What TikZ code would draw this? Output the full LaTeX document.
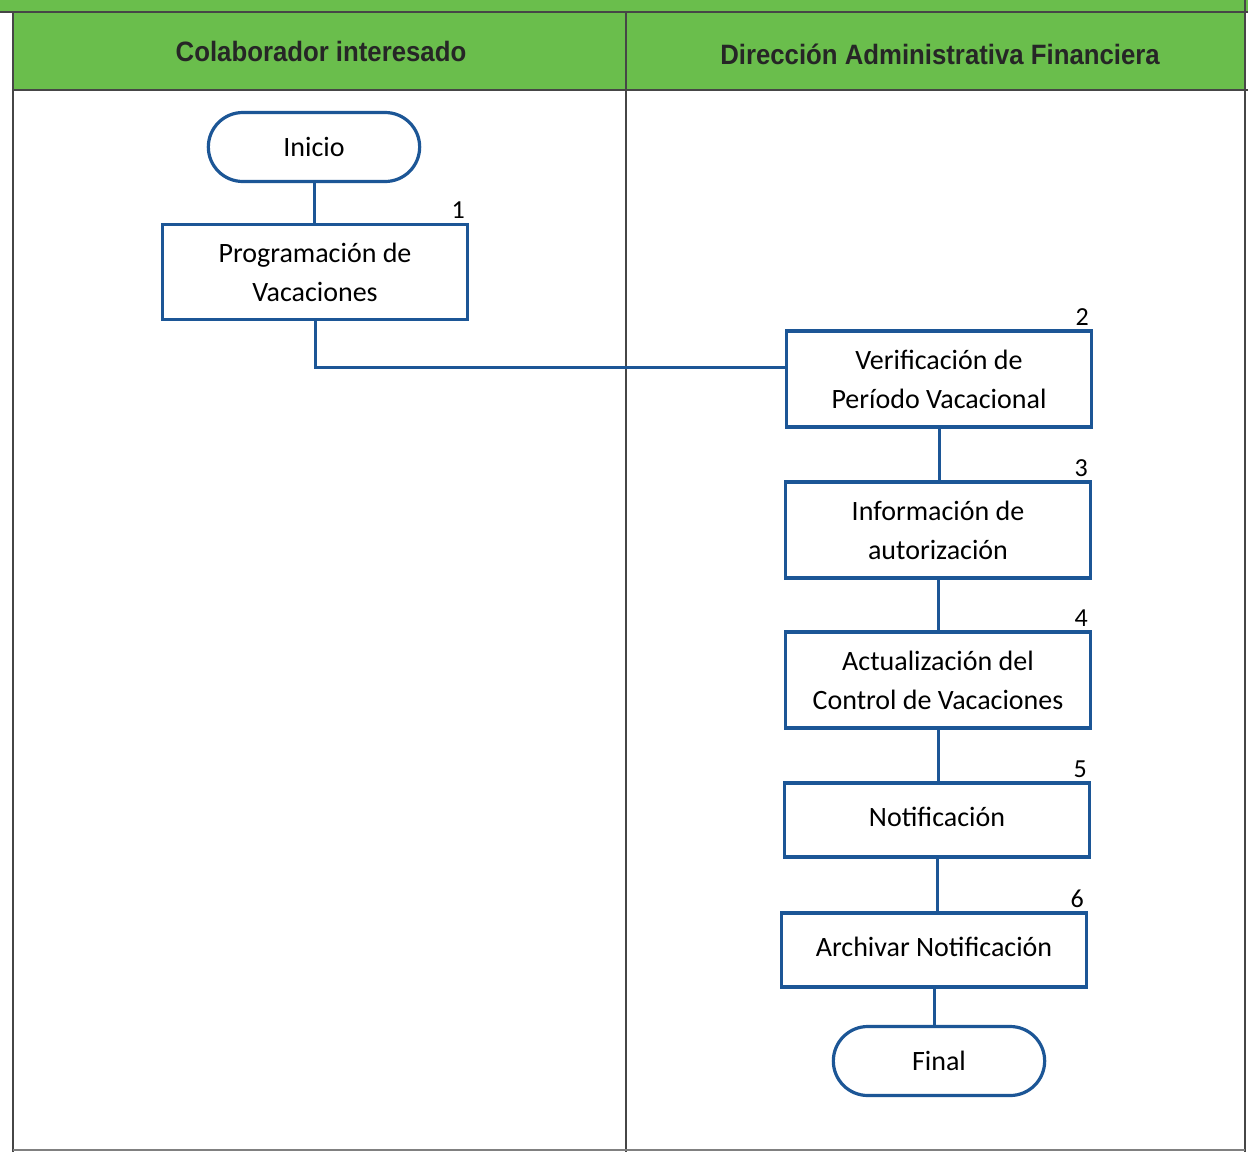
\documentclass[tikz,border=0pt]{standalone}
\usepackage{fontspec}
\setmainfont{Carlito}
\newfontfamily\headfont{Liberation Sans}
\usetikzlibrary{shapes.misc}
\definecolor{hdrgreen}{RGB}{106,190,76}
\definecolor{flowblue}{RGB}{28,86,150}
\definecolor{rulegray}{RGB}{70,70,70}
\tikzset{
  lane/.style={draw=rulegray, line width=1.6pt},
  proc/.style={draw=flowblue, line width=3.2pt, fill=white, minimum width=305pt,
    align=center, font=\fontsize{28}{39}\selectfont, inner sep=0pt},
  term/.style={draw=flowblue, line width=3.2pt, fill=white, rounded rectangle,
    minimum width=218pt, minimum height=69pt, font=\fontsize{28}{32}\selectfont},
  flow/.style={draw=flowblue, line width=3pt},
  num/.style={font=\fontsize{26}{30}\selectfont, anchor=south east, inner sep=0pt},
  head/.style={font=\headfont\bfseries\fontsize{28}{32}\selectfont, text=black!85}
}
\begin{document}
\begin{tikzpicture}[x=1pt,y=-1pt]
\useasboundingbox (0,0) rectangle (1248,1152);
\fill[white] (0,0) rectangle (1248,1152);
% header band
\fill[hdrgreen] (0,0) rectangle (1248,12);
\fill[hdrgreen] (13,12) rectangle (1245,90);
\draw[lane] (0,12) -- (1248,12);
\draw[lane] (13,90) -- (1248,90);
\draw[lane] (13,12) -- (13,1152);
\draw[lane] (1245,0) -- (1245,1152);
\draw[lane] (626,12) -- (626,1152);
\draw[draw=gray, line width=1.5pt] (13,1150) -- (1245,1150);
\node[head] (h1) at (321,51) {\scalebox{0.92}[1]{Colaborador interesado}};
\node[head] (h2) at (940,54) {\scalebox{0.92}[1]{Dirección Administrativa Financiera}};
% flow nodes
\node[term] (ini) at (314,147) {Inicio};
\node[proc, minimum height=95pt] (p1) at (315,272) {Programación de\\Vacaciones};
\node[proc, minimum height=96pt] (p2) at (939,379) {Verificación de\\Período Vacacional};
\node[proc, minimum height=96pt] (p3) at (938,530) {Información de\\autorización};
\node[proc, minimum height=96pt] (p4) at (938,680) {Actualización del\\Control de Vacaciones};
\node[proc, minimum height=74pt] (p5) at (937,820) {\raisebox{7pt}{Notificación}};
\node[proc, minimum height=74pt] (p6) at (934,950) {\raisebox{7pt}{Archivar Notificación}};
\node[term] (fin) at (939,1061) {Final};
% step numbers
\node[num] (n1) at ([xshift=-4pt,yshift=4pt]p1.north east) {1};
\node[num] (n2) at ([xshift=-4pt,yshift=4pt]p2.north east) {2};
\node[num] (n3) at ([xshift=-4pt,yshift=4pt]p3.north east) {3};
\node[num] (n4) at ([xshift=-4pt,yshift=4pt]p4.north east) {4};
\node[num] (n5) at ([xshift=-4pt,yshift=4pt]p5.north east) {5};
\node[num] (n6) at ([xshift=-4pt,yshift=4pt]p6.north east) {6};
% connectors
\draw[flow] (ini.south) -- (ini.south |- p1.north);
\draw[flow] (p1.south) |- ([yshift=12pt]p2.west);
\draw[flow] (p2.south) -- (p2.south |- p3.north);
\draw[flow] (p3.south) -- (p3.south |- p4.north);
\draw[flow] (p4.south) -- (p4.south |- p5.north);
\draw[flow] (p5.south) -- (p5.south |- p6.north);
\draw[flow] (p6.south) -- (p6.south |- fin.north);
\end{tikzpicture}
\end{document}
